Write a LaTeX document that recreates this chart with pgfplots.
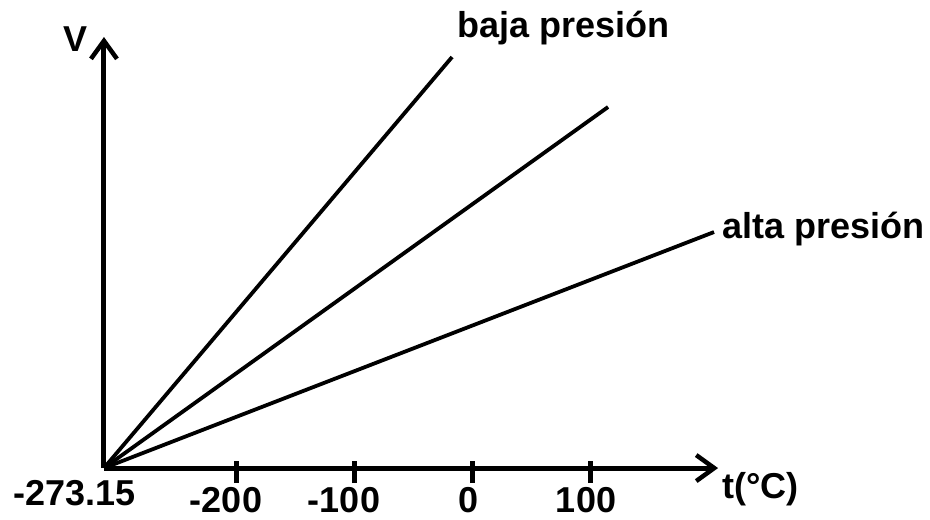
\documentclass[border=0pt]{standalone}
\usepackage{fontspec}
\setmainfont{Liberation Sans}
\usepackage{pgfplots}
\pgfplotsset{compat=1.18}
\usetikzlibrary{arrows.meta}

\begin{document}
\begin{tikzpicture}
\begin{axis}[
  scale only axis,
  width=614pt, height=431pt,
  xmin=-311.9, xmax=208.5,
  ymin=0, ymax=431,
  axis lines=left,
  axis line style={line width=5pt, -{Straight Barb[length=18pt,width=26pt,line width=4.5pt]}},
  xtick={-200,-100,0,100},
  xticklabels={\llap{-}200,\llap{-}100,0,100},
  ytick=\empty,
  tick align=center,
  major tick length=22pt,
  xtick style={line width=5pt, yshift=-4pt, black},
  xticklabel style={anchor=base, yshift=-33pt, xshift=-4pt},
  font=\fontsize{36}{40}\selectfont\bfseries,
  clip=false,
]
% invisible frame = page size
\path (axis cs:-400,-51) rectangle (axis cs:388.1,468);

% lineas (volumen frente a temperatura)
\addplot[black, line width=3.8pt] coordinates {(-311.9,0) (-16.9,411)};
\addplot[black, line width=3.8pt] coordinates {(-311.9,0) (115.3,361)};
\addplot[black, line width=3.8pt] coordinates {(-311.9,0) (205.1,236)};

\node[inner sep=0pt] at (axis cs:-335.6,429) {V};
\node[inner sep=0pt, anchor=base west] at (axis cs:211.9,-30) {t(°C)};
\node[inner sep=0pt, anchor=base west] at (axis cs:-12.7,431) {baja presión};
\node[inner sep=0pt, anchor=base west] at (axis cs:211.9,230) {alta presión};
\node[inner sep=0pt, anchor=base] at (axis cs:-336.9,-37) {-273.15};
\end{axis}
\end{tikzpicture}
\end{document}
